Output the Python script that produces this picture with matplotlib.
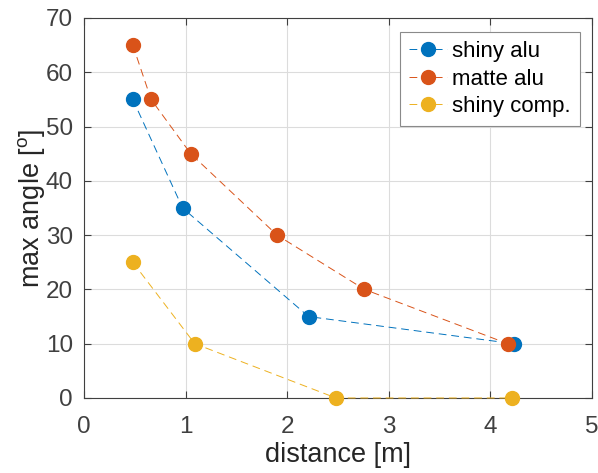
import matplotlib
matplotlib.use('Agg')
import matplotlib.pyplot as plt

plt.rcParams['font.family'] = ['Liberation Sans', 'DejaVu Sans']
plt.rcParams['mathtext.fontset'] = 'custom'
plt.rcParams['mathtext.rm'] = 'Liberation Sans'
plt.rcParams['mathtext.it'] = 'Liberation Sans'

# data
shiny_alu_x = [0.48, 0.97, 2.21, 4.23]
shiny_alu_y = [55, 35, 15, 10]
matte_alu_x = [0.48, 0.66, 1.05, 1.90, 2.76, 4.17]
matte_alu_y = [65, 55, 45, 30, 20, 10]
shiny_comp_x = [0.48, 1.09, 2.48, 4.21]
shiny_comp_y = [25, 10, 0, 0]

labels = ['shiny alu', 'matte alu', 'shiny comp.']
colors = ['#0072BD', '#D95319', '#EDB120']

fig = plt.figure(figsize=(5.98, 4.73), dpi=100)
ax = fig.add_axes([0.1405, 0.1586, 0.8495, 0.8034])

series = [(shiny_alu_x, shiny_alu_y), (matte_alu_x, matte_alu_y), (shiny_comp_x, shiny_comp_y)]
for (x, y), lab, c in zip(series, labels, colors):
    ax.plot(x, y, linestyle=(0, (8, 5)), linewidth=0.7, color=c,
            marker='o', markersize=10, markeredgecolor=c, markerfacecolor=c,
            label=lab, clip_on=False, zorder=3)

ax.set_xlim(0, 5)
ax.set_ylim(0, 70)
ax.set_xticks(range(0, 6))
ax.set_yticks(range(0, 71, 10))

axcol = '#404040'
for s in ax.spines.values():
    s.set_color(axcol)
    s.set_linewidth(0.8)
ax.tick_params(direction='in', length=5, width=0.8, colors=axcol, labelsize=17.5,
               top=True, right=True)
ax.tick_params(axis='x', pad=13)
ax.tick_params(axis='y', pad=8)
ax.grid(True, color='#dcdcdc', linewidth=0.8)
ax.set_axisbelow(True)

ax.set_xlabel('distance [m]', fontsize=19.5, color='#262626')
ax.set_ylabel(r'max angle [$^{\mathrm{o}}$]', fontsize=19.5, color='#262626')
ax.xaxis.set_label_coords(0.5, -0.115)
ax.yaxis.set_label_coords(-0.073, 0.5)

leg = ax.legend(loc='upper right', fontsize=16, frameon=True, fancybox=False,
                edgecolor='#8a8a8a', framealpha=1, handlelength=1.7,
                borderpad=0.4, labelspacing=0.3, handletextpad=0.25,
                borderaxespad=0, bbox_to_anchor=(0.976, 0.963))
leg.get_frame().set_linewidth(0.8)

fig.savefig('out.png', dpi=100)
